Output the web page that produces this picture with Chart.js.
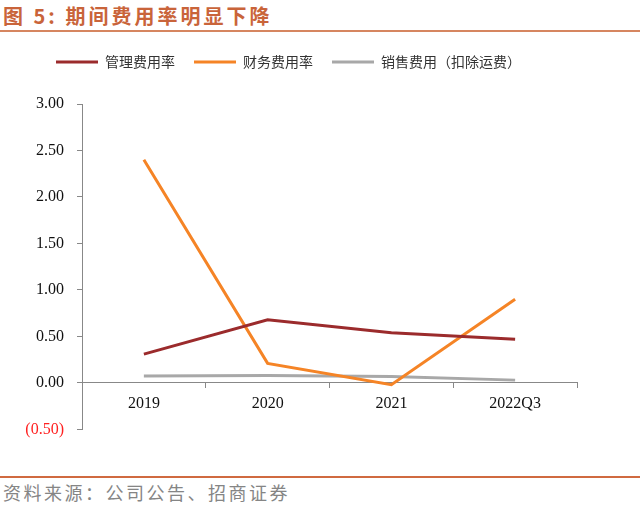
<!DOCTYPE html>
<html>
<head>
<meta charset="utf-8">
<script src="https://cdn.jsdelivr.net/npm/chart.js@4"></script>
<style>
  html, body { margin: 0; padding: 0; background: #fff; }
  body { width: 640px; height: 505px; position: relative; overflow: hidden; font-family: "Noto Sans CJK SC", sans-serif; }
  #title { position: absolute; left: 3px; top: 1px; font-size: 20px; font-weight: bold; color: #c9643a; letter-spacing: 3px; }
  #titleLine { position: absolute; left: 0; top: 30px; width: 640px; height: 2px; background: #d68660; }
  #box { position: absolute; left: 0; top: 36px; width: 640px; height: 416px; }
  #footLine { position: absolute; left: 0; top: 476px; width: 640px; height: 2px; background: #d06a40; }
  #foot { position: absolute; left: 3px; top: 479px; font-size: 18px; color: #858585; letter-spacing: 2.5px; }
</style>
</head>
<body>
<div id="title">图 5:&nbsp;期间费用率明显下降</div>
<div id="titleLine"></div>
<div id="box"><canvas id="grafico"></canvas></div>
<div id="footLine"></div>
<div id="foot">资料来源：公司公告、招商证券</div>
<script>
const categorias = ['2019', '2020', '2021', '2022Q3'];
const guanli = [0.31, 0.68, 0.54, 0.47];
const caiwu = [2.40, 0.21, -0.02, 0.90];
const xiaoshou = [0.075, 0.08, 0.07, 0.03];
const yMin = -0.5, yMax = 3, yStep = 0.5;

// extra room between legend and plot
const legendGap = {
  id: 'legendGap',
  beforeInit(chart) {
    const fit = chart.legend.fit;
    chart.legend.fit = function () {
      fit.bind(chart.legend)();
      this.height += 25;
    };
  }
};

const ctx = document.getElementById('grafico').getContext('2d');
new Chart(ctx, {
  type: 'line',
  data: {
    labels: categorias,
    datasets: [
      { label: '管理费用率', data: guanli, borderColor: '#9b2b2c', backgroundColor: '#9b2b2c', borderWidth: 3, pointRadius: 0, tension: 0 },
      { label: '财务费用率', data: caiwu, borderColor: '#f58426', backgroundColor: '#f58426', borderWidth: 3, pointRadius: 0, tension: 0 },
      { label: '销售费用（扣除运费）', data: xiaoshou, borderColor: '#a8a8a8', backgroundColor: '#a8a8a8', borderWidth: 3, pointRadius: 0, tension: 0 }
    ]
  },
  options: {
    responsive: true,
    maintainAspectRatio: false,
    animation: false,
    layout: { padding: { top: 0, right: 63, left: 0, bottom: 0 } },
    plugins: {
      tooltip: { enabled: false },
      legend: {
        position: 'top',
        labels: {
          usePointStyle: true,
          pointStyle: 'line',
          pointStyleWidth: 42,
          color: '#333',
          font: { family: '"Noto Sans CJK SC"', size: 14 },
          padding: 19
        }
      }
    },
    scales: {
      x: {
        position: { y: 0 },
        offset: true,
        grid: { drawOnChartArea: false, offset: true, tickLength: 5, color: '#888' },
        border: { color: '#888', width: 1 },
        ticks: { color: '#111', padding: 6, font: { family: '"Liberation Serif"', size: 16 } }
      },
      y: {
        min: yMin,
        max: yMax,
        afterFit(scale) { scale.width = 82; },
        grid: { drawOnChartArea: false, tickLength: 5, color: '#888' },
        border: { color: '#888', width: 1 },
        ticks: {
          stepSize: yStep,
          padding: 13,
          font: { family: '"Liberation Serif"', size: 16 },
          color: (c) => c.tick.value < 0 ? '#ff2020' : '#111',
          callback: (v) => v < 0 ? '(' + Math.abs(v).toFixed(2) + ')' : v.toFixed(2)
        }
      }
    }
  },
  plugins: [legendGap]
});
</script>
</body>
</html>
